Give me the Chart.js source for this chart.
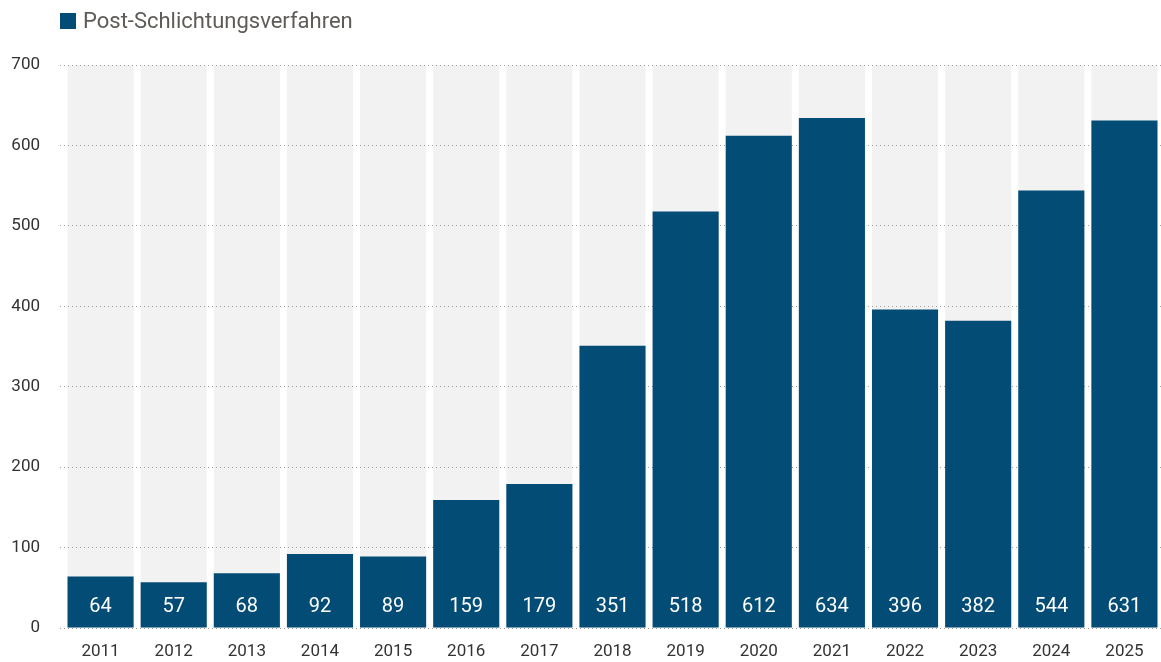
<!DOCTYPE html>
<html>
<head>
<meta charset="utf-8">
<script src="https://cdn.jsdelivr.net/npm/chart.js@4/dist/chart.umd.min.js"></script>
<style>
  html, body { margin: 0; padding: 0; background: #fff; }
  #wrap { position: relative; width: 1161px; height: 662px; }
  #legend { position: absolute; left: 60px; top: 8px; font: 22px Roboto, sans-serif; color: #5f5b57; display: flex; align-items: center; }
  #legend span.box { display: inline-block; width: 16px; height: 16px; background: #034c76; margin-right: 7px; }
</style>
</head>
<body>
<div id="wrap">
  <div id="legend"><span class="box"></span>Post-Schlichtungsverfahren</div>
  <canvas id="chart" width="1161" height="662"></canvas>
</div>
<script>
const years = ['2011', '2012', '2013', '2014', '2015', '2016', '2017', '2018', '2019', '2020', '2021', '2022', '2023', '2024', '2025'];
const verfahren = [64, 57, 68, 92, 89, 159, 179, 351, 518, 612, 634, 396, 382, 544, 631];
const yMax = 700;
const yStep = 100;

const BLUE = '#034c76';
const GREY_BG = '#f2f2f2';

// graue Hintergrundspalten hinter jeder Kategorie (unter dem Raster)
const columnBg = {
  id: 'columnBg',
  beforeDraw(chart) {
    const { ctx, scales: { y } } = chart;
    const meta = chart.getDatasetMeta(0);
    ctx.save();
    ctx.fillStyle = GREY_BG;
    meta.data.forEach(bar => {
      const w = bar.width;
      ctx.fillRect(bar.x - w / 2, y.getPixelForValue(yMax), w, y.getPixelForValue(0) - y.getPixelForValue(yMax));
    });
    ctx.restore();
  }
};

// Werte unten in die Balken schreiben
const valueLabels = {
  id: 'valueLabels',
  afterDatasetsDraw(chart) {
    const { ctx, scales: { y } } = chart;
    const meta = chart.getDatasetMeta(0);
    ctx.save();
    ctx.fillStyle = '#ffffff';
    ctx.font = '20px Roboto, sans-serif';
    ctx.textAlign = 'center';
    ctx.textBaseline = 'middle';
    meta.data.forEach((bar, i) => {
      ctx.fillText(String(verfahren[i]), bar.x, y.getPixelForValue(0) - 21);
    });
    ctx.restore();
  }
};

new Chart(document.getElementById('chart'), {
  type: 'bar',
  data: {
    labels: years,
    datasets: [{
      label: 'Post-Schlichtungsverfahren',
      data: verfahren,
      backgroundColor: BLUE,
      borderWidth: 0,
      barPercentage: 1,
      categoryPercentage: 0.904
    }]
  },
  options: {
    responsive: false,
    animation: false,
    layout: { padding: { top: 65, right: 0, left: 0, bottom: 0 } },
    plugins: {
      legend: { display: false },
      tooltip: { enabled: false }
    },
    scales: {
      x: {
        grid: { display: false, drawTicks: false },
        border: { display: false },
        ticks: { color: '#333', font: { family: 'Roboto', size: 17 }, padding: 14 },
        afterFit(scale) { scale.height = 34; }
      },
      y: {
        min: 0,
        max: yMax,
        ticks: { stepSize: yStep, color: '#333', font: { family: 'Roboto', size: 17 }, padding: 20 },
        grid: {
          color: '#a0a0a0',
          lineWidth: 1,
          tickLength: 4,
          tickBorderDash: [1, 3],
          tickColor: '#a0a0a0'
        },
        border: { display: false, dash: [1, 3] },
        afterFit(scale) { scale.width = 64; }
      }
    }
  },
  plugins: [columnBg, valueLabels]
});
</script>
</body>
</html>
